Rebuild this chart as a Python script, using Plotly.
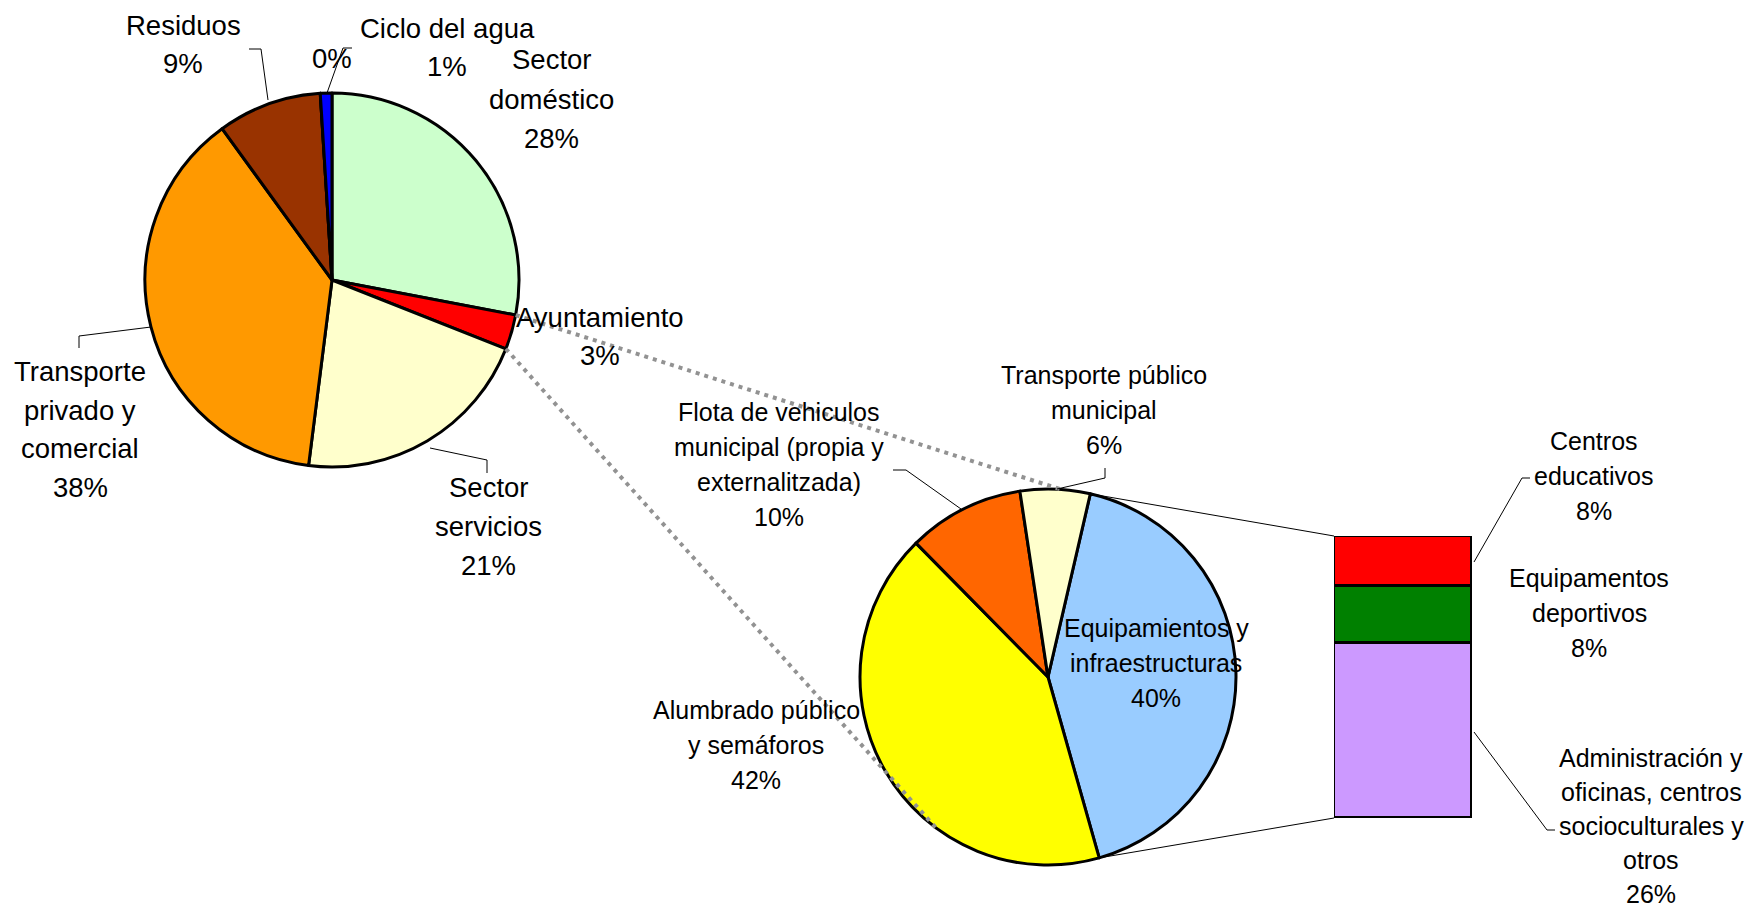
import math
import plotly.graph_objects as go

W, H = 1751, 911

# ---------------- data ----------------
main_labels = ["Sector<br>doméstico", "Ayuntamiento", "Sector<br>servicios",
               "Transporte<br>privado y<br>comercial", "Residuos", "", "Ciclo del agua"]
main_values = [28, 3, 21, 38, 9, 0, 1]
main_colors = ["#CCFFCC", "#FF0000", "#FFFFCC", "#FF9900", "#993300", "#FFFFFF", "#0000FF"]

bar_labels = ["Administración y<br>oficinas, centros<br>socioculturales y<br>otros",
              "Equipamentos<br>deportivos", "Centros<br>educativos"]
bar_values = [26.1, 8.4, 7.5]
bar_colors = ["#CC99FF", "#008000", "#FF0000"]

ayto_labels = ["Equipamientos y<br>infraestructuras", "Alumbrado público<br>y semáforos",
               "Flota de vehiculos<br>municipal (propia y<br>externalitzada)",
               "Transporte público<br>municipal"]
ayto_values = [sum(bar_values), 42, 10, 6]
ayto_pct_text = ["40%", "42%", "10%", "6%"]
ayto_colors = ["#99CCFF", "#FFFF00", "#FF6600", "#FFFFCC"]

# ---------------- layout geometry (pixels) ----------------
P1 = dict(cx=332, cy=280, r=187, rot=0)
P2 = dict(cx=1048, cy=677, r=188, rot=13)
BAR = dict(x0=1334, x1=1472, y0=536, y1=818)


def fx(x):
    return x / W


def fy(y):
    return 1 - y / H


def dom(p):
    return dict(x=[fx(p["cx"] - p["r"]), fx(p["cx"] + p["r"])],
                y=[fy(p["cy"] + p["r"]), fy(p["cy"] - p["r"])])


def rim(p, ang):
    a = math.radians(ang)
    return p["cx"] + p["r"] * math.sin(a), p["cy"] - p["r"] * math.cos(a)


def boundaries(values, rot):
    tot = sum(values)
    out = [rot]
    for v in values:
        out.append(out[-1] + 360 * v / tot)
    return out


fig = go.Figure()

fig.add_trace(go.Pie(
    labels=main_labels, values=main_values, sort=False, direction="clockwise",
    rotation=P1["rot"], domain=dom(P1), textinfo="none", hoverinfo="label+percent",
    marker=dict(colors=main_colors, line=dict(color="black", width=3)),
    showlegend=False))

fig.add_trace(go.Pie(
    labels=ayto_labels, values=ayto_values, sort=False, direction="clockwise",
    rotation=P2["rot"], domain=dom(P2), textinfo="none", hoverinfo="label",
    marker=dict(colors=ayto_colors, line=dict(color="black", width=3)),
    showlegend=False))

for lab, v, c in zip(bar_labels, bar_values, bar_colors):
    fig.add_trace(go.Bar(x=[0], y=[v], width=[1], name=lab, hoverinfo="name",
                         marker=dict(color=c, line=dict(color="black", width=3)),
                         cliponaxis=False, showlegend=False, xaxis="x", yaxis="y"))

shapes = []


def polyline(pts, color="black", width=1, dash="solid"):
    for (xa, ya), (xb, yb) in zip(pts[:-1], pts[1:]):
        shapes.append(dict(type="line", xref="paper", yref="paper",
                           x0=fx(xa), y0=fy(ya), x1=fx(xb), y1=fy(yb),
                           line=dict(color=color, width=width, dash=dash)))


# dotted lines from the "Ayuntamiento" slice to the second pie
b1 = boundaries(main_values, P1["rot"])
b2 = boundaries(ayto_values, P2["rot"])
polyline([rim(P1, b1[1]), rim(P2, 4)], color="#929292", width=4, dash="4px,5px")
polyline([rim(P1, b1[2]), rim(P2, 216.5)], color="#929292", width=4, dash="4px,5px")

# connector lines from the first slice of pie 2 to the bar
polyline([rim(P2, b2[0]), (BAR["x0"], BAR["y0"])])
polyline([rim(P2, b2[1]), (BAR["x0"], BAR["y1"])])

# leader lines
polyline([(268, 100), (261, 49), (249, 49)])            # Residuos
polyline([(327, 93), (343, 48), (352, 48)])             # 0%
polyline([(151, 327), (79, 336), (79, 348)])            # Transporte
polyline([(430, 448), (487, 460), (487, 473)])          # Servicios
polyline([(961, 509), (906, 470), (893, 470)])          # Flota
polyline([(1057, 489), (1105, 478), (1105, 468)])       # Transporte público
polyline([(1474, 562), (1522, 478), (1530, 478)])       # Centros educativos
polyline([(1474, 732), (1547, 830), (1555, 830)])       # Administración

annotations = []


def add_label(text, x, y, size, gap):
    for i, line in enumerate(text.split("<br>")):
        if line == "":
            continue
        annotations.append(dict(
            xref="paper", yref="paper", x=fx(x), y=fy(y + i * gap),
            xanchor="center", yanchor="middle", showarrow=False, text=line,
            font=dict(family="Liberation Sans, Arial, sans-serif", size=size, color="black")))


def pct(v):
    return f"{round(v)}%"


F1, G1 = 27.5, 39
F2, G2 = 25, 35

main_pos = [(551, 60), (600, 317), (488, 487), (80, 371), (183, 25), (332, 58), (447, 28)]
for lab, v, (x, y) in zip(main_labels, main_values, main_pos):
    txt = (lab + "<br>" if lab else "") + pct(v)
    add_label(txt, x, y, F1, G1)

ayto_pos = [(1156, 628), (756, 710), (779, 412), (1104, 375)]
for lab, t, (x, y) in zip(ayto_labels, ayto_pct_text, ayto_pos):
    add_label(lab + "<br>" + t, x, y, F2, G2)

bar_pos = [(1651, 758), (1589, 578), (1594, 441)]
bar_gaps = [34, G2, G2]
for lab, v, (x, y), g in zip(bar_labels, bar_values, bar_pos, bar_gaps):
    add_label(lab + "<br>" + pct(v), x, y, F2, g)

fig.update_layout(
    width=W, height=H, autosize=False,
    margin=dict(l=0, r=0, t=0, b=0, pad=0),
    paper_bgcolor="white", plot_bgcolor="white",
    barmode="stack", bargap=0,
    xaxis=dict(domain=[fx(BAR["x0"]), fx(BAR["x1"])], range=[-0.5, 0.5],
               visible=False, fixedrange=True),
    yaxis=dict(domain=[fy(BAR["y1"]), fy(BAR["y0"])], range=[0, sum(bar_values)],
               visible=False, fixedrange=True),
    shapes=shapes, annotations=annotations,
)

fig.write_html(
    "out.html",
    config={"displayModeBar": False},
    post_script="document.body.style.margin='0';document.body.style.overflow='hidden';",
)
